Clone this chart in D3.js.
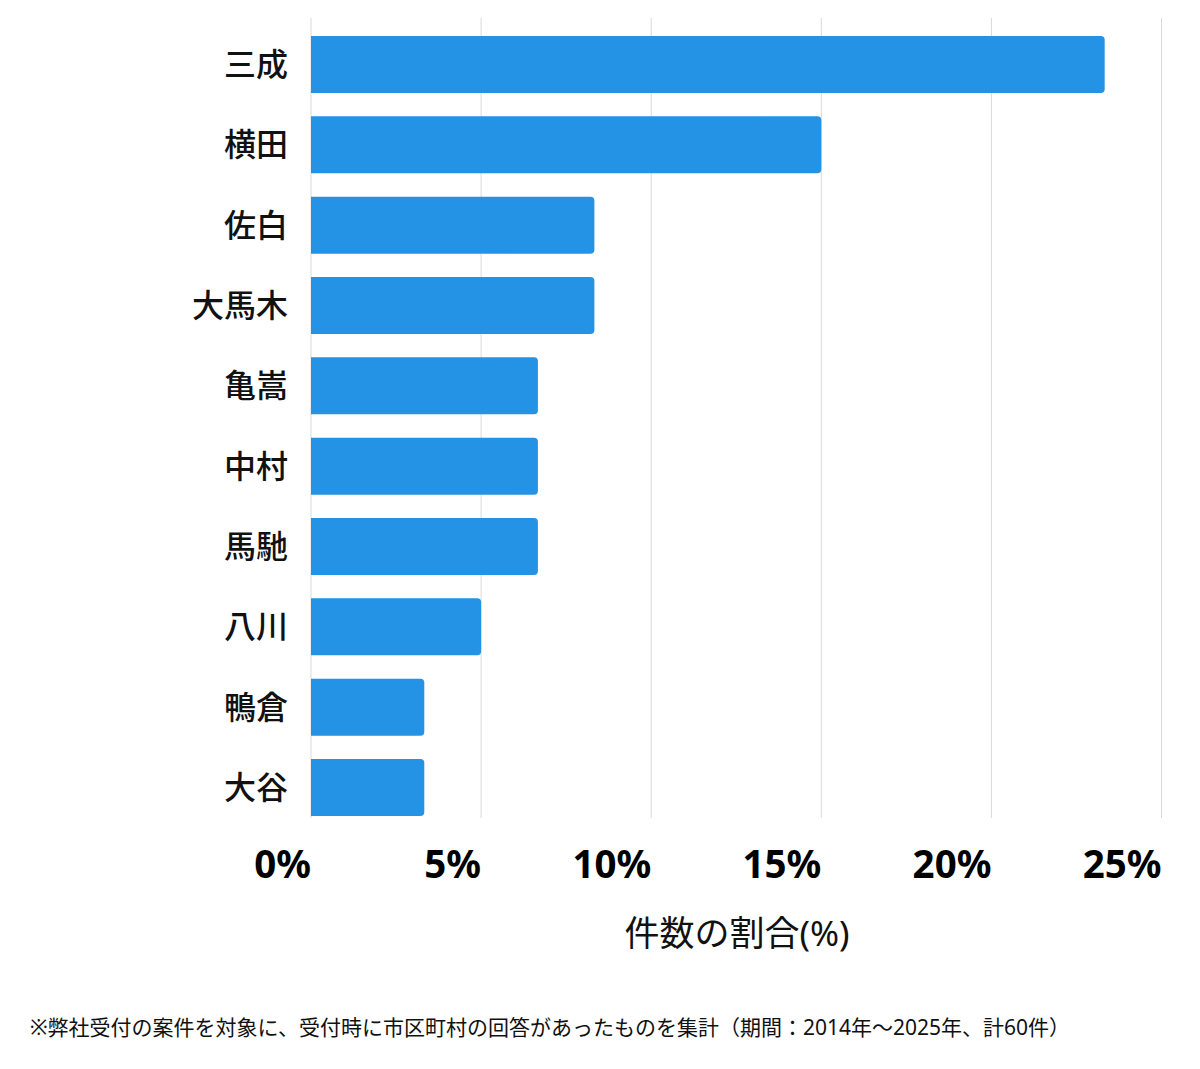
<!DOCTYPE html>
<html><head><meta charset="utf-8">
<script src="https://cdn.jsdelivr.net/npm/d3@7"></script>
<style>body{margin:0;background:#fff;} svg{display:block;}</style>
</head><body>
<svg id="c" width="1200" height="1069"></svg>
<script>
const categories = ["三成","横田","佐白","大馬木","亀嵩","中村","馬馳","八川","鴨倉","大谷"];
const values = [23.33,15.0,8.33,8.33,6.67,6.67,6.67,5.0,3.33,3.33];
const tickValues = [0,5,10,15,20,25];
const tickLabels = ["0%","5%","10%","15%","20%","25%"];
const axisTitle = "件数の割合(%)";
const footnote = "※弊社受付の案件を対象に、受付時に市区町村の回答があったものを集計（期間：2014年～2025年、計60件）";

const font = "'Noto Sans','Noto Sans CJK JP',sans-serif";
const svg = d3.select("#c");
const x = d3.scaleLinear().domain([0,25]).range([311,1161.5]);
const y = d3.scaleBand().domain(categories).range([24.35,827.65]).paddingInner(0.29).paddingOuter(0.145);

// grid
svg.append("g").selectAll("line").data(tickValues).join("line")
  .attr("x1",d=>x(d)).attr("x2",d=>x(d)).attr("y1",18).attr("y2",818)
  .attr("stroke","#d9d9d9").attr("stroke-width",1);

// bars
const r = 4;
svg.append("g").selectAll("path").data(values).join("path")
  .attr("fill","#2593e5")
  .attr("d",(d,i)=>{
    const x0=x(0), x1=x(d), y0=y(categories[i]), h=y.bandwidth();
    return `M${x0},${y0}H${x1-r}Q${x1},${y0} ${x1},${y0+r}V${y0+h-r}Q${x1},${y0+h} ${x1-r},${y0+h}H${x0}Z`;
  });

// category labels
svg.append("g").selectAll("text").data(categories).join("text")
  .attr("x",288).attr("y",d=>y(d)+y.bandwidth()/2)
  .attr("dy","0.36em").attr("text-anchor","end")
  .attr("font-family",font).attr("font-size",32).attr("font-weight",500).attr("fill","#111")
  .text(d=>d);

// tick labels
svg.append("g").selectAll("text").data(tickValues).join("text")
  .attr("x",d=>x(d)).attr("y",878).attr("text-anchor","end")
  .attr("font-family",font).attr("font-size",38.5).attr("font-weight",700).attr("fill","#000")
  .text((d,i)=>tickLabels[i]);

// axis title
svg.append("text").attr("x",737).attr("y",946).attr("text-anchor","middle")
  .attr("font-family",font).attr("font-size",35).attr("fill","#111").text(axisTitle);

// footnote
svg.append("text").attr("x",30).attr("y",1035)
  .attr("font-family",font).attr("font-size",21).attr("fill","#111").text(footnote);
</script>
</body></html>
